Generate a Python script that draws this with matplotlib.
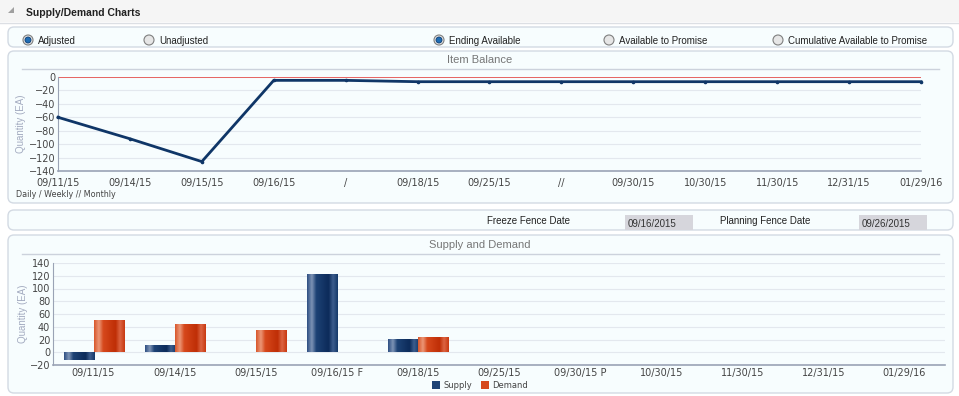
import numpy as np
import matplotlib
matplotlib.use("Agg")
from matplotlib import pyplot as plt
from matplotlib.patches import FancyBboxPatch, Circle, Polygon, Rectangle
from matplotlib.colors import LinearSegmentedColormap

# item balance (line chart)
bal_labels = ['09/11/15', '09/14/15', '09/15/15', '09/16/15', '/', '09/18/15',
              '09/25/15', '//', '09/30/15', '10/30/15', '11/30/15', '12/31/15', '01/29/16']
bal_values = [-60, -92, -126, -5, -5, -7, -7, -7, -7, -7, -7, -7, -7]

# supply and demand (bar chart)
sd_labels = ['09/11/15', '09/14/15', '09/15/15', '09/16/15 F', '09/18/15', '09/25/15',
             '09/30/15 P', '10/30/15', '11/30/15', '12/31/15', '01/29/16']
supply = [-12, 10, 0, 122, 20, 0, 0, 0, 0, 0, 0]
demand = [49, 43, 33, 0, 23, 0, 0, 0, 0, 0, 0]

radio_opts = ['Adjusted', 'Unadjusted', 'Ending Available', 'Available to Promise',
              'Cumulative Available to Promise']
radio_sel = [True, False, True, False, False]
freeze_date = '09/16/2015'
planning_date = '09/26/2015'

W, H = 959, 396
UI = 'Liberation Sans'
PANEL = '#f7fdfe'
EDGE = '#d3dae3'

fig = plt.figure(figsize=(W / 100, H / 100), dpi=100)
fig.patch.set_facecolor('white')


def rect(x0, y0, x1, y1):
    # pixel box (top-left origin) -> figure fraction
    return [x0 / W, 1 - y1 / H, (x1 - x0) / W, (y1 - y0) / H]


bg = fig.add_axes([0, 0, 1, 1])
bg.set_xlim(0, W)
bg.set_ylim(H, 0)
bg.axis('off')

# header strip
bg.add_patch(Rectangle((0, 0), W, 22, facecolor='#f5f5f5', edgecolor='none'))
bg.plot([0, W], [22.5, 22.5], color='#dcdfe4', lw=1)
bg.add_patch(Polygon([(8, 13), (14, 13), (14, 7)], closed=True, facecolor='#a0a0a0', edgecolor='none'))
bg.text(26, 16, 'Supply/Demand Charts', fontsize=7.5, fontweight='bold', family=UI,
        color='#222222', va='baseline')


def panel(y0, y1):
    bg.add_patch(FancyBboxPatch((8, y0), 945, y1 - y0, boxstyle='round,pad=0,rounding_size=6',
                                facecolor=PANEL, edgecolor=EDGE, lw=1))


panel(27, 47)
panel(51, 203)
panel(210, 230)
panel(235, 393)

# radio buttons
radio_x = [28, 149, 439, 609, 778]
for x, lab, sel in zip(radio_x, radio_opts, radio_sel):
    bg.add_patch(Circle((x, 40), 5, facecolor='#e6e6e6', edgecolor='#7f7f7f', lw=0.8))
    if sel:
        bg.add_patch(Circle((x, 40), 3, facecolor='#1f6db4', edgecolor='#0d3d73', lw=0.6))
    bg.text(x + 10, 43.5, lab, fontsize=7, family=UI, color='#222222', va='baseline')

# panel titles
bg.text(480, 63, 'Item Balance', fontsize=8, family=UI, color='#777777', ha='center', va='baseline')
bg.plot([22, 939], [68.5, 68.5], color='#ccd2dc', lw=1)
bg.text(480, 248, 'Supply and Demand', fontsize=8, family=UI, color='#777777', ha='center', va='baseline')
bg.plot([22, 939], [253.5, 253.5], color='#ccd2dc', lw=1)
bg.text(16, 197, 'Daily / Weekly // Monthly', fontsize=5.8, color='#444444', va='baseline')

# fence dates
bg.text(487, 224, 'Freeze Fence Date', fontsize=7, family=UI, color='#222222', va='baseline')
bg.add_patch(Rectangle((625, 215), 68, 15, facecolor='#d6d6dc', edgecolor='none'))
bg.text(628, 227, freeze_date, fontsize=7, family=UI, color='#333333', va='baseline')
bg.text(720, 224, 'Planning Fence Date', fontsize=7, family=UI, color='#222222', va='baseline')
bg.add_patch(Rectangle((859, 215), 68, 15, facecolor='#d6d6dc', edgecolor='none'))
bg.text(862, 227, planning_date, fontsize=7, family=UI, color='#333333', va='baseline')


def style_axes(ax):
    ax.set_facecolor('none')
    for s in ['top', 'right']:
        ax.spines[s].set_visible(False)
    ax.spines['left'].set_color('#9aa3b5')
    ax.spines['bottom'].set_color('#9aa3b5')
    ax.spines['bottom'].set_linewidth(1.2)
    ax.tick_params(length=0, labelsize=7, colors='#444444', pad=2)
    ax.grid(axis='y', color='#e3e8ee', lw=0.8)
    ax.set_axisbelow(True)
    ax.set_ylabel('Quantity (EA)', fontsize=7, color='#a3abc0', family=UI, labelpad=3)


# item balance line chart
ax1 = fig.add_axes(rect(58, 77, 921, 171))
style_axes(ax1)
ax1.tick_params(axis='x', pad=5)
xs = np.arange(len(bal_values))
ax1.axhline(0, color='#e8403c', lw=1.1, zorder=2)
ax1.plot(xs, bal_values, color='#0f3667', lw=2, marker='o', ms=1.6, zorder=3, clip_on=False)
ax1.set_xlim(0, len(bal_values) - 1)
ax1.set_ylim(-140, 0)
ax1.set_yticks(np.arange(-140, 1, 20))
ax1.set_xticks(xs)
ax1.set_xticklabels(bal_labels)
ax1.yaxis.set_label_coords(-0.037, 0.5)

# supply and demand bar chart
ax2 = fig.add_axes(rect(53, 263, 945, 365))
style_axes(ax2)
ax2.yaxis.set_label_coords(-0.028, 0.5)

sup_cmap = LinearSegmentedColormap.from_list('sup', [
    (0.0, '#2f5083'), (0.15, '#7d93b5'), (0.3, '#1d4275'), (0.7, '#0c2b5a'),
    (0.85, '#3d5d8d'), (1.0, '#163a6a')])
dem_cmap = LinearSegmentedColormap.from_list('dem', [
    (0.0, '#d8582c'), (0.15, '#eb9676'), (0.3, '#d6481c'), (0.7, '#bf2e06'),
    (0.85, '#dc6442'), (1.0, '#c83a12')])
grad = np.linspace(0, 1, 64).reshape(1, -1)
bw = 0.37
for i in range(len(sd_labels)):
    for val, off, cm in [(supply[i], -bw / 2, sup_cmap), (demand[i], bw / 2, dem_cmap)]:
        if val == 0:
            continue
        x0 = i + off - bw / 2
        ax2.imshow(grad, cmap=cm, aspect='auto', extent=(x0, x0 + bw, 0, val),
                   interpolation='bilinear', zorder=2)

ax2.set_xlim(-0.5, len(sd_labels) - 0.5)
ax2.set_ylim(-20, 140)
ax2.set_yticks(np.arange(-20, 141, 20))
ax2.set_xticks(np.arange(len(sd_labels)))
ax2.set_xticklabels(sd_labels)

# legend
bg.add_patch(Rectangle((432, 381), 8, 8, facecolor='#1d4275', edgecolor='none'))
bg.text(443, 388.5, 'Supply', fontsize=6, color='#444444', va='baseline')
bg.add_patch(Rectangle((481, 381), 8, 8, facecolor='#d6481c', edgecolor='none'))
bg.text(492, 388.5, 'Demand', fontsize=6, color='#444444', va='baseline')

fig.savefig('out.png', dpi=100)
